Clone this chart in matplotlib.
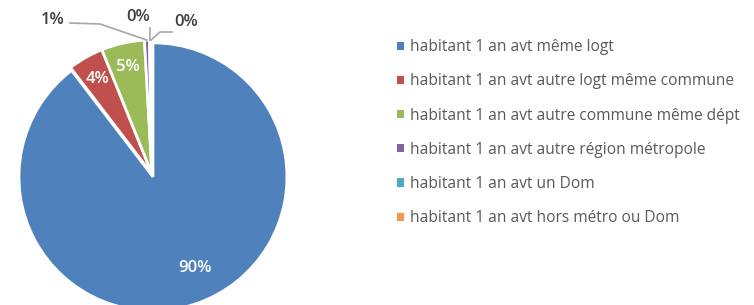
import matplotlib.pyplot as plt
import numpy as np

categories = ["habitant 1 an avt même logt",
              "habitant 1 an avt autre logt même commune",
              "habitant 1 an avt autre commune même dépt",
              "habitant 1 an avt autre région métropole",
              "habitant 1 an avt un Dom",
              "habitant 1 an avt hors métro ou Dom"]
valeurs = [89.6, 4.3, 5.2, 0.6, 0.1, 0.2]
etiquettes = ["90%", "4%", "5%", "1%", "0%", "0%"]
couleurs = ["#4F81BD", "#C0504D", "#9BBB59", "#8064A2", "#4BACC6", "#F79646"]

plt.rcParams['font.family'] = ['Open Sans', 'DejaVu Sans']

fig = plt.figure(figsize=(7.54, 3.05), dpi=100)
ax = fig.add_axes([0, 0, 1, 1])

cx, cy, r = 152, 131, 134
wedges, _ = ax.pie(valeurs, colors=couleurs, startangle=90, counterclock=False,
                   center=(cx, cy), radius=r, explode=[3, 0, 0, 0, 0, 0],
                   wedgeprops=dict(edgecolor='white', linewidth=2), frame=True)
ax.set_xlim(0, 754)
ax.set_ylim(0, 305)
ax.axis('off')

# etiquettes interieures
for i, w in enumerate(wedges[:3]):
    mid = (w.theta1 + w.theta2) / 2
    if i == 0:
        mid += 6
    ang = np.deg2rad(mid)
    f = 0.77 if i == 0 else 0.82
    ax.text(cx + f * r * np.cos(ang), cy + f * r * np.sin(ang), etiquettes[i],
            ha='center', va='center', color='white', fontsize=12, fontweight='semibold')

# etiquettes exterieures avec lignes de rappel
pos_txt = [(53, 285), (138, 288), (186, 283)]
coudes = [(100, 281), (150, 277), (160, 273)]
for k, i in enumerate(range(3, 6)):
    w = wedges[i]
    ang = np.deg2rad((w.theta1 + w.theta2) / 2)
    px, py = cx + r * np.cos(ang), cy + r * np.sin(ang)
    tx, ty = pos_txt[k]
    ax.text(tx, ty, etiquettes[i], ha='center', va='center', color='#404040',
            fontsize=12, fontweight='semibold')
    bx, by = coudes[k]
    if k == 0:
        ax.plot([tx + 17, bx, px], [ty - 3, by, py], color='#A6A6A6', lw=1.2)
    elif k == 1:
        ax.plot([bx, px], [by, py], color='#A6A6A6', lw=1.2)
    else:
        ax.plot([tx - 14, bx, px], [ty - 10, by, py], color='#A6A6A6', lw=1.2)

leg = ax.legend(wedges, categories, loc='upper left', bbox_to_anchor=(391 / 754, 1 - 33 / 305),
                frameon=False, fontsize=11.2, handlelength=0.45, handleheight=0.45,
                labelspacing=1.17, handletextpad=0.4, borderaxespad=0)
for t in leg.get_texts():
    t.set_color('#595959')
for h in leg.legend_handles:
    h.set_edgecolor('none')

fig.savefig("out.png", dpi=100)
